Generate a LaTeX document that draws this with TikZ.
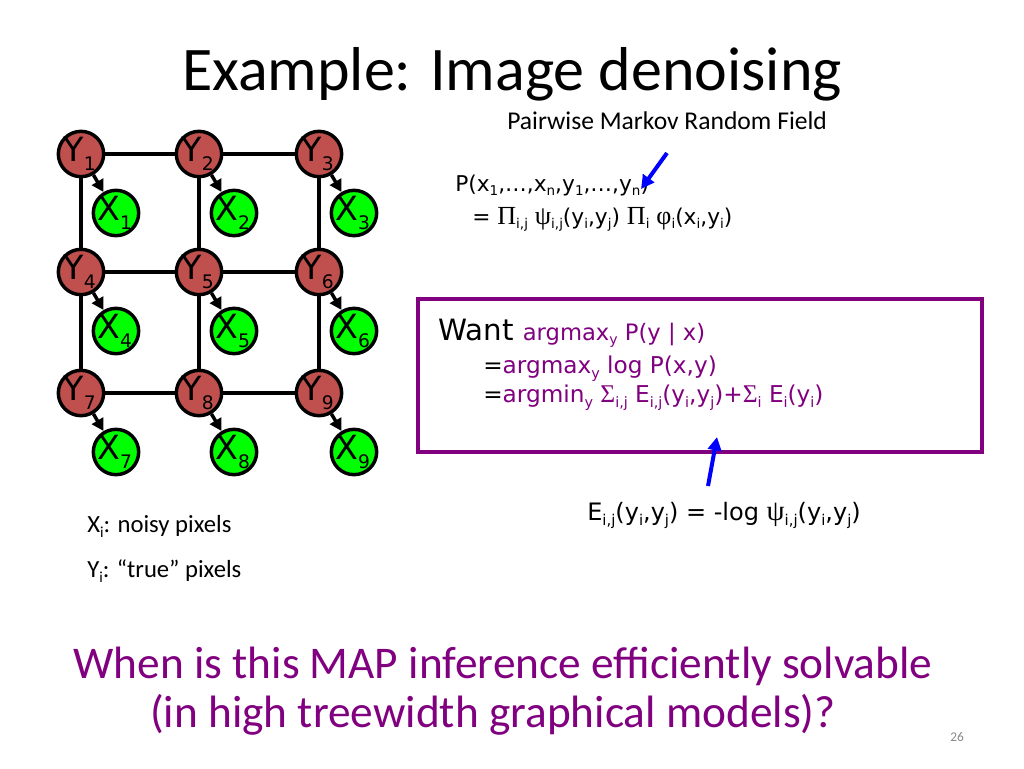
\documentclass[tikz,border=0pt]{standalone}
\usepackage{fontspec}
\setmainfont{Carlito}
\newfontfamily\vf{DejaVu Sans}
\newfontfamily\sym{Liberation Serif}
\usetikzlibrary{arrows.meta}
\definecolor{yred}{RGB}{192,80,77}
\definecolor{xgreen}{RGB}{0,255,0}
\definecolor{mpurple}{RGB}{128,0,128}
\definecolor{pgray}{RGB}{137,137,137}
\newcommand\sbs[1]{\raisebox{-0.22em}{\scalebox{0.62}{#1}}}
\newcommand\nsb[1]{\raisebox{-0.25em}{\scalebox{0.56}{#1}}}
\newcommand\bigprod{{\sym\scalebox{1.2}{Π}}}
\newcommand\bigsum{{\sym\scalebox{1.1}{Σ}}}
\newcommand\gpsi{{\sym\scalebox{1.2}{ψ}}}
\newcommand\gphi{{\sym\scalebox{1.2}{φ}}}
\begin{document}
\begin{tikzpicture}[x=0.75pt,y=-0.75pt,
  ynode/.style={circle,draw=black,line width=2.6pt,fill=yred,minimum size=34pt,inner sep=0pt},
  xnode/.style={circle,draw=black,line width=2.6pt,fill=xgreen,minimum size=34pt,inner sep=0pt},
  nlab/.style={inner sep=0pt,font=\vf\fontsize{25}{25}\selectfont},
  grid/.style={line width=2.5pt,black},
  yx/.style={line width=2.6pt,black,-{Triangle[length=9pt,width=9.5pt]}},
  blue arrow/.style={line width=3pt,blue,-{Triangle[length=10pt,width=10pt]}},
  txt/.style={inner sep=0pt,anchor=base west},
  form/.style={inner sep=0pt,anchor=base west,font=\vf\fontsize{16.3}{16.3}\selectfont},
  boxf/.style={inner sep=0pt,anchor=base west,font=\vf\fontsize{17.4}{17.4}\selectfont}
]
\useasboundingbox[fill=white] (0,0) rectangle (1024,768);

% title
\node[inner sep=0pt,anchor=base,font=\fontsize{46.5}{46.5}\selectfont] (title) at (512,90) {Example: Image denoising};

% grid nodes
\foreach \i/\x/\y in {1/81/154,2/199/154,3/319/154,4/81/272,5/199/272,6/319/272,7/81/393,8/199/393,9/319/393}{
  \node[ynode,label={[nlab,xshift=-1pt]center:Y\nsb{\i}}] (y\i) at (\x,\y) {};
  \node[xnode,label={[nlab,xshift=-1pt]center:X\nsb{\i}}] (x\i) at (\x+35,\y+59) {};
}
\foreach \a/\b in {1/2,2/3,4/5,5/6,7/8,8/9,1/4,4/7,2/5,5/8,3/6,6/9}{
  \draw[grid] (y\a) -- (y\b);
}
\foreach \i in {1,...,9}{
  \draw[yx] (y\i) -- (x\i);
}

% legend
\node[txt,font=\fontsize{18.5}{18.5}\selectfont] (lx) at (87,532) {X\sbs{i}: noisy pixels};
\node[txt,font=\fontsize{18.5}{18.5}\selectfont] (ly) at (87,577) {Y\sbs{i}: “true” pixels};

% MRF text
\node[txt,font=\fontsize{19.2}{19.2}\selectfont] (mrf) at (507,129) {Pairwise Markov Random Field};
\node[form] (p1) at (455,191) {P(x\sbs{1},…,x\sbs{n},y\sbs{1},…,y\sbs{n})};
\node[form] (p2) at (472,224) {= \bigprod\sbs{i,j} \gpsi\sbs{i,j}(y\sbs{i},y\sbs{j}) \bigprod\sbs{i} \gphi\sbs{i}(x\sbs{i},y\sbs{i})};
\coordinate (a1s) at (667,153);
\coordinate (a1e) at (641,189);
\draw[blue arrow] (a1s) -- (a1e);

% box
\draw[line width=3pt,mpurple] (418,299) rectangle (982,452);
\node[txt] (w1) at (438,340) {\vf\fontsize{22}{22}\selectfont Want \color{mpurple}\fontsize{17}{17}\selectfont argmax\sbs{y} P(y | x)};
\node[boxf,text=mpurple] (w2) at (483,373) {{\color{black}=}argmax\sbs{y} log P(x,y)};
\node[boxf,text=mpurple] (w3) at (483,402) {{\color{black}=}argmin\sbs{y} \bigsum\sbs{i,j} E\sbs{i,j}(y\sbs{i},y\sbs{j})+\bigsum\sbs{i} E\sbs{i}(y\sbs{i})};
\node[form,font=\vf\fontsize{18}{18}\selectfont] (e1) at (587,520) {E\sbs{i,j}(y\sbs{i},y\sbs{j}) = -log \gpsi\sbs{i,j}(y\sbs{i},y\sbs{j})};
\coordinate (a2s) at (708,486);
\coordinate (a2e) at (717,437);
\draw[blue arrow] (a2s) -- (a2e);

% bottom question
\node[inner sep=0pt,anchor=base,text=mpurple,font=\fontsize{34}{34}\selectfont] (q1) at (503,678) {When is this MAP inference efficiently solvable};
\node[inner sep=0pt,anchor=base,text=mpurple,font=\fontsize{34}{34}\selectfont] (q2) at (493,727) {(in high treewidth graphical models)?};
\node[inner sep=0pt,anchor=base,text=pgray,font=\fontsize{10}{10}\selectfont] (pg) at (957,741) {26};
\end{tikzpicture}
\end{document}
